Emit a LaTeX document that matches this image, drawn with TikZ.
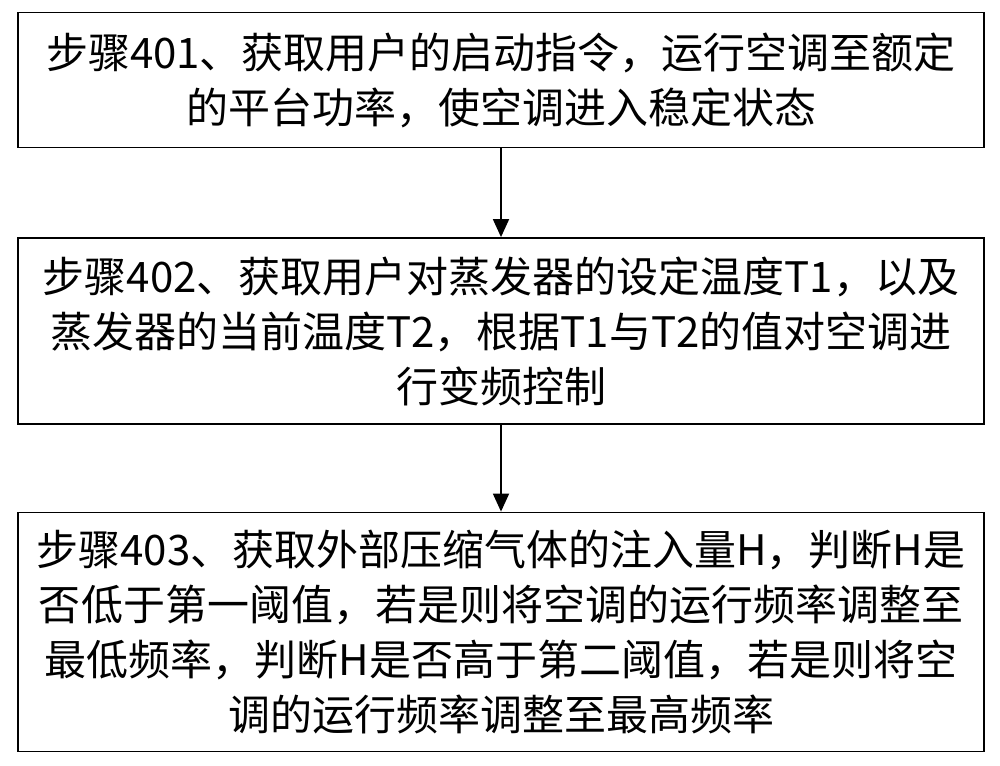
\documentclass[tikz,border=0pt]{standalone}
\usepackage{fontspec}
\setmainfont{Noto Sans CJK SC}
\usetikzlibrary{arrows.meta}
\begin{document}
\begin{tikzpicture}[x=1pt,y=-1pt,
  stepbox/.style={draw,line width=1.8pt,minimum width=966pt,align=center,font=\fontsize{42}{55}\selectfont,inner sep=0pt},
  conn/.style={line width=1.8pt,-{Triangle[length=18pt,width=16pt]}}]
\useasboundingbox (0,0) rectangle (1000,765);
\node[stepbox,minimum height=135pt] (a) at (501,80) {步骤401、获取用户的启动指令，运行空调至额定\\的平台功率，使空调进入稳定状态};
\node[stepbox,minimum height=186pt] (b) at (501,331) {步骤402、获取用户对蒸发器的设定温度T1，以及\\蒸发器的当前温度T2，根据T1与T2的值对空调进\\行变频控制};
\node[stepbox,minimum height=239pt] (c) at (501,632) {步骤403、获取外部压缩气体的注入量H，判断H是\\否低于第一阈值，若是则将空调的运行频率调整至\\最低频率，判断H是否高于第二阈值，若是则将空\\调的运行频率调整至最高频率};
\draw[conn] (a) -- (b);
\draw[conn] (b) -- (c);
\end{tikzpicture}
\end{document}
